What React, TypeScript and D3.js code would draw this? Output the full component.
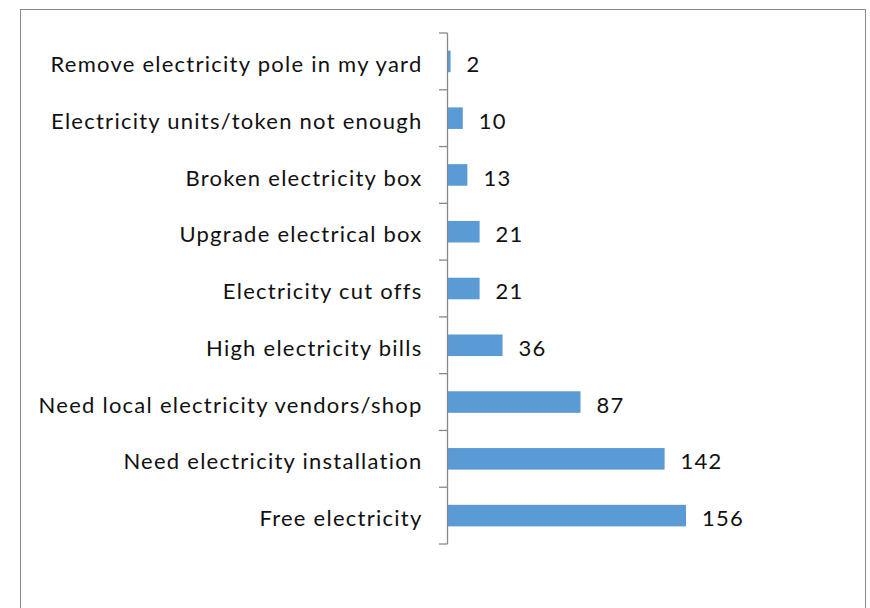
import React from "react";
import * as d3 from "d3";

const categories = [
  "Remove electricity pole in my yard",
  "Electricity units/token not enough",
  "Broken electricity box",
  "Upgrade electrical box",
  "Electricity cut offs",
  "High electricity bills",
  "Need local electricity vendors/shop",
  "Need electricity installation",
  "Free electricity",
];
const values = [2, 10, 13, 21, 21, 36, 87, 142, 156];

const W = 870;
const H = 608;
const axisX = 447.5;
const plotTop = 33;
const plotBottom = 544;

export default function App() {
  const y = d3.scaleBand<string>().domain(categories).range([plotTop, plotBottom]).paddingInner(0.62).paddingOuter(0.31);
  const x = d3.scaleLinear().domain([0, 156]).range([axisX, 686]);
  const bounds = d3.range(categories.length + 1).map((i) => plotTop + (i * (plotBottom - plotTop)) / categories.length);
  const font = "Lato, 'Open Sans', sans-serif";
  return (
    <svg width={W} height={H} style={{ position: "absolute", left: 0, top: 0, background: "#fff" }}>
      <rect x={20.5} y={9.5} width={845} height={610} fill="#fff" stroke="#898989" strokeWidth={1} />
      {categories.map((c, i) => (
        <rect key={c} x={x(0)} y={y(c)!} width={x(values[i]) - x(0)} height={y.bandwidth()} fill="#5B9BD5" />
      ))}
      <line x1={axisX} x2={axisX} y1={plotTop} y2={plotBottom} stroke="#898989" strokeWidth={1.3} />
      {bounds.map((b, i) => (
        <line key={i} x1={439} x2={axisX} y1={b} y2={b} stroke="#898989" strokeWidth={1.3} />
      ))}
      {categories.map((c) => (
        <text key={c} x={422.5} y={y(c)! + y.bandwidth() / 2} dy="0.48em" textAnchor="end" fontFamily={font} fontSize={22} letterSpacing={1.25} fill="#111">
          {c}
        </text>
      ))}
      {categories.map((c, i) => (
        <text key={c} x={x(values[i]) + 16} y={y(c)! + y.bandwidth() / 2} dy="0.48em" textAnchor="start" fontFamily={font} fontSize={22} letterSpacing={1.25} fill="#111">
          {values[i]}
        </text>
      ))}
    </svg>
  );
}
